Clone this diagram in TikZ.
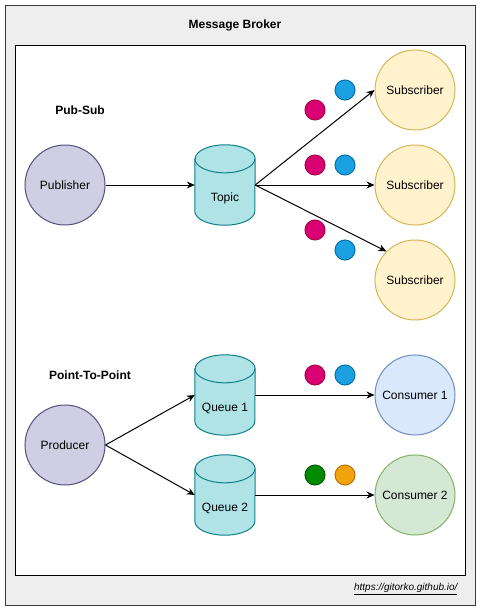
\documentclass[tikz,border=0pt]{standalone}
\usepackage{fontspec}
\setmainfont{Liberation Sans}
\usetikzlibrary{arrows.meta,calc}
\definecolor{outerfill}{HTML}{EEEEEE}
\definecolor{outerdraw}{HTML}{36393D}
\definecolor{pubfill}{HTML}{D0CEE2}
\definecolor{pubdraw}{HTML}{56517E}
\definecolor{subfill}{HTML}{FFF2CC}
\definecolor{subdraw}{HTML}{D6B656}
\definecolor{cylfill}{HTML}{B0E3E6}
\definecolor{cyldraw}{HTML}{0E8088}
\definecolor{cafill}{HTML}{DAE8FC}
\definecolor{cadraw}{HTML}{6C8EBF}
\definecolor{cbfill}{HTML}{D5E8D4}
\definecolor{cbdraw}{HTML}{82B366}
\definecolor{magfill}{HTML}{D80073}
\definecolor{magdraw}{HTML}{A50040}
\definecolor{bluefill}{HTML}{1BA1E2}
\definecolor{bluedraw}{HTML}{006EAF}
\definecolor{grnfill}{HTML}{008A00}
\definecolor{grndraw}{HTML}{005700}
\definecolor{orgfill}{HTML}{F0A30A}
\definecolor{orgdraw}{HTML}{BD7000}
\newcommand{\cylbody}[1]{%
  \path[fill=cylfill,draw=cyldraw,line width=1pt]
    ($(#1.north west)+(0,14)$) -- ($(#1.south west)-(0,14)$)
    arc (180:0:30 and 14) -- ($(#1.north east)+(0,14)$)
    arc (360:180:30 and 14) -- cycle;
  \draw[cyldraw,line width=1pt] ($(#1.north west)+(0,14)$) arc (180:0:30 and 14);}
\begin{document}
\begin{tikzpicture}[x=1pt,y=-1pt,
  every node/.style={font=\fontsize{12}{14}\selectfont},
  actor/.style={circle,minimum size=80pt,inner sep=0pt,line width=1pt},
  pubnode/.style={actor,fill=pubfill,draw=pubdraw},
  subnode/.style={actor,fill=subfill,draw=subdraw},
  canode/.style={actor,fill=cafill,draw=cadraw},
  cbnode/.style={actor,fill=cbfill,draw=cbdraw},
  cylnode/.style={rectangle,minimum width=60pt,minimum height=80pt,inner sep=0pt},
  dot/.style={circle,minimum size=20pt,inner sep=0pt,line width=1pt},
  magdot/.style={dot,fill=magfill,draw=magdraw},
  bluedot/.style={dot,fill=bluefill,draw=bluedraw},
  grndot/.style={dot,fill=grnfill,draw=grndraw},
  orgdot/.style={dot,fill=orgfill,draw=orgdraw},
  conn/.style={line width=1pt,-{Stealth[length=8pt,width=7pt]}},
  heading/.style={font=\fontsize{12}{14}\selectfont\bfseries}]
\useasboundingbox (0,0) rectangle (481,611);
\draw[fill=outerfill,draw=outerdraw,line width=1pt] (5,5) rectangle (475,605);
\draw[fill=white,draw=black,line width=1pt] (15,45) rectangle (465.5,575);
\node[heading] (title) at (235,25) {Message Broker};
\node[heading] (pslabel) at (80,110.5) {Pub-Sub};
\node[heading] (p2plabel) at (90,375.5) {Point-To-Point};
% Pub-Sub
\node[pubnode] (pub) at (65,185) {Publisher};
\node[cylnode] (topic) at (225,185) {};
\cylbody{topic}
\node (topiclbl) at (225,198) {Topic};
\node[subnode] (sub1) at (415,90) {Subscriber};
\node[subnode] (sub2) at (415,185) {Subscriber};
\node[subnode] (sub3) at (415,280) {Subscriber};
\draw[conn] (pub) -- (topic.west);
\draw[conn] (topic.east) -- (sub1.west);
\draw[conn] (topic.east) -- (sub2.west);
\draw[conn] (topic.east) -- (sub3.north west);
\node[magdot] (m1) at (315,110) {};
\node[bluedot] (b1) at (345,90) {};
\node[magdot] (m2) at (315,165) {};
\node[bluedot] (b2) at (345,165) {};
\node[magdot] (m3) at (315,230) {};
\node[bluedot] (b3) at (345,250) {};
% Point-to-point
\node[pubnode] (prod) at (65,445) {Producer};
\node[cylnode] (q1) at (225,395) {};
\cylbody{q1}
\node (q1lbl) at (225,408) {Queue 1};
\node[cylnode] (q2) at (225,495) {};
\cylbody{q2}
\node (q2lbl) at (225,508) {Queue 2};
\node[canode] (c1) at (415,395) {Consumer 1};
\node[cbnode] (c2) at (415,495) {Consumer 2};
\draw[conn] (prod.east) -- (q1.west);
\draw[conn] (prod.east) -- (q2.west);
\draw[conn] (q1.east) -- (c1.west);
\draw[conn] (q2.east) -- (c2.west);
\node[magdot] (m4) at (315,375) {};
\node[bluedot] (b4) at (345,375) {};
\node[grndot] (g5) at (315,475) {};
\node[orgdot] (o5) at (345,475) {};
\node[anchor=east,font=\fontsize{10}{12}\selectfont\itshape] (url) at (461,589) {\underline{https://gitorko.github.io/}};
\end{tikzpicture}
\end{document}
